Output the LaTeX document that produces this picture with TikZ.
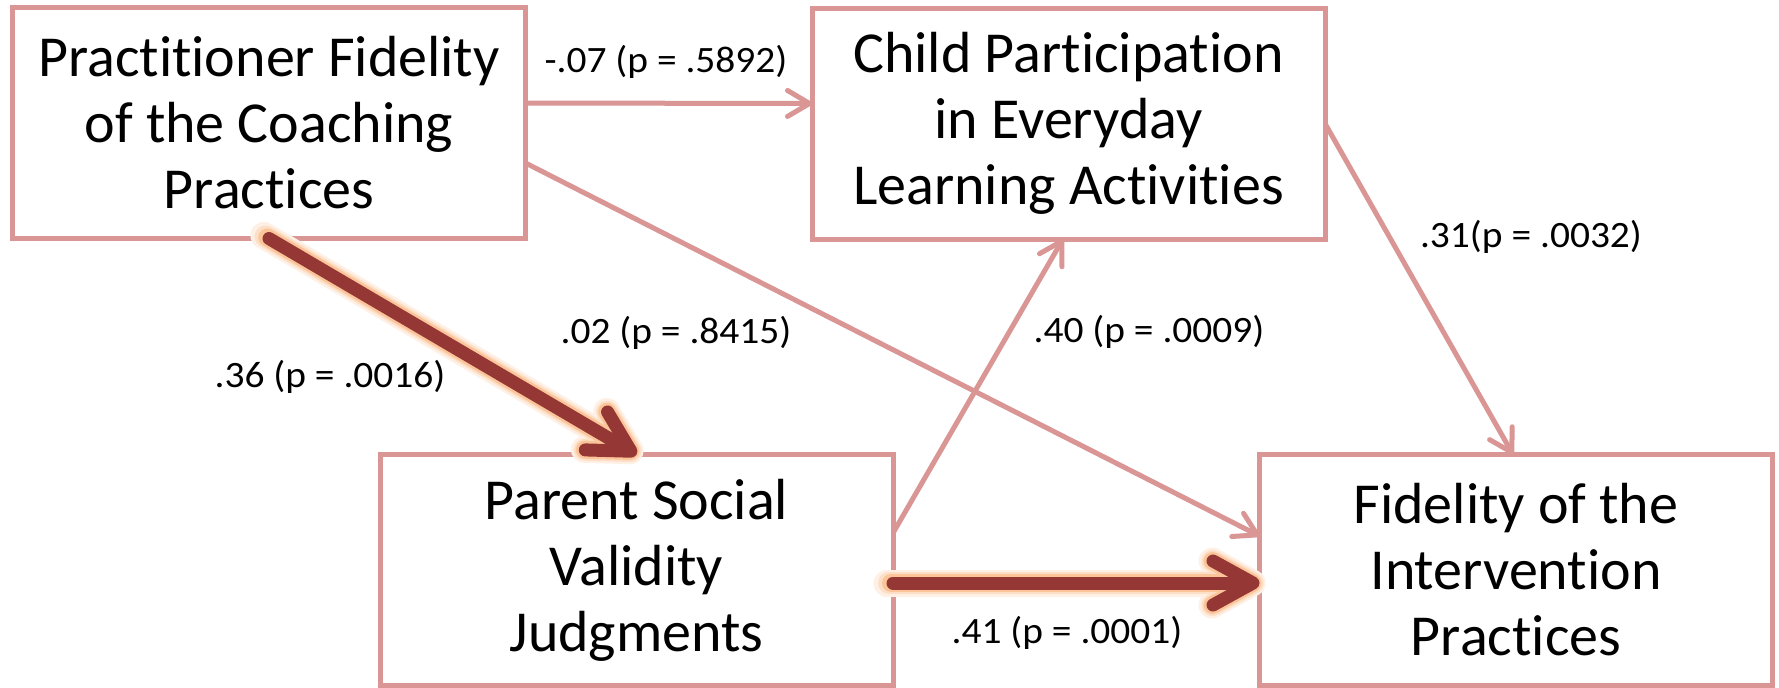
\documentclass[tikz,border=0pt]{standalone}
\usepackage{fontspec}
\setmainfont{Carlito}[Ligatures={NoCommon}]
\newfontfamily\lblfont[FakeStretch=1.06,Ligatures={NoCommon}]{Carlito}
\usetikzlibrary{arrows.meta}
\definecolor{boxpink}{HTML}{D99694}
\definecolor{darkred}{HTML}{953735}
\definecolor{glowor}{HTML}{F79646}
\begin{document}
\begin{tikzpicture}[x=0.5pt,y=-0.5pt,
  box/.style={draw=boxpink,line width=2.5pt,fill=white,minimum width=256.5pt,minimum height=115.5pt,
    align=center,font=\fontsize{29}{33}\selectfont,inner sep=0pt,outer sep=0pt},
  weakarrow/.style={draw=boxpink,line width=2.5pt,-{Straight Barb[length=11pt,width=13pt,round]}},
  strongarrow/.style={draw=darkred,line width=6.5pt,line cap=round,-{Straight Barb[length=20pt,width=22pt,round]}},
  glowarrow/.style={line cap=round,-{Straight Barb[length=20pt,width=22pt,round]}},
  lbl/.style={font=\lblfont\fontsize{18.6}{22}\selectfont,inner sep=0pt}]
\useasboundingbox[fill=white] (0,0) rectangle (1779,687);

\node[box] (b1) at (269,123) {Practitioner Fidelity\\of the Coaching\\Practices};
\node[box] (b2) at (1068.5,123.5) {Child Participation\\in Everyday\\Learning Activities};
\node[box] (b3) at (636.5,570) {Parent Social\\Validity\\Judgments};
\node[box] (b4) at (1516,570) {Fidelity of the\\Intervention\\Practices};

\draw[weakarrow] ([yshift=10pt]b1.east) -- ([yshift=10pt]b2.west);
\draw[weakarrow] ([yshift=-20pt]b1.east) -- ([yshift=17pt]b4.west);
\draw[weakarrow] (b2.east) -- ([xshift=-1.5pt]b4.north);
\draw[weakarrow] ([yshift=18.5pt]b3.east) -- ([xshift=-2.75pt]b2.south);

\foreach \w/\c/\s in {13.5pt/14/-3pt,11pt/30/-2pt,9pt/55/-1pt}{
  \draw[glowarrow,line width=\w,draw=glowor!\c,shorten >=\s,shorten <=\s] (b1.south) -- (b3.north);
  \draw[glowarrow,line width=\w,draw=glowor!\c,shorten >=\s,shorten <=\s] ([yshift=-6.5pt]b3.east) -- ([yshift=-6.5pt]b4.west);
}
\draw[strongarrow] (b1.south) -- (b3.north);
\draw[strongarrow] ([yshift=-6.5pt]b3.east) -- ([yshift=-6.5pt]b4.west);

\node[lbl] (l1) at (666,62) {-.07 (p = .5892)};
\node[lbl] (l2) at (1531,237) {.31(p = .0032)};
\node[lbl] (l3) at (676,333) {.02 (p = .8415)};
\node[lbl] (l4) at (1149,332) {.40 (p = .0009)};
\node[lbl] (l5) at (330,377) {.36 (p = .0016)};
\node[lbl] (l6) at (1067,633) {.41 (p = .0001)};
\end{tikzpicture}
\end{document}
